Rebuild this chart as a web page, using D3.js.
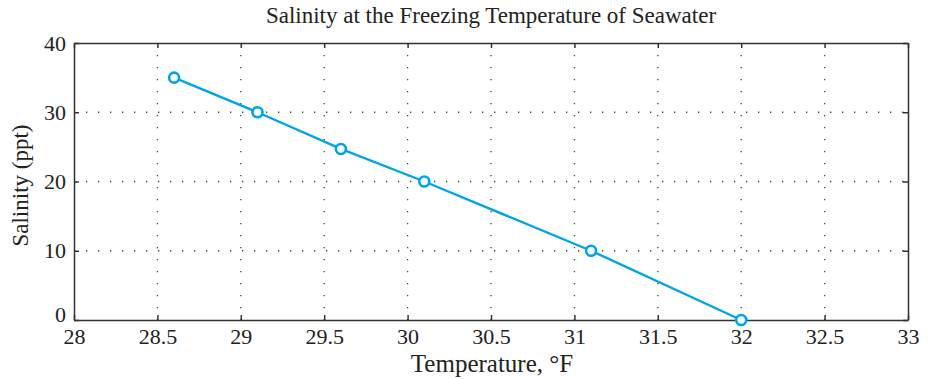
<!DOCTYPE html>
<html>
<head>
<meta charset="utf-8">
<script src="https://cdn.jsdelivr.net/npm/d3@7"></script>
<style>
  body { margin: 0; background: #fff; }
</style>
</head>
<body>
<svg width="928" height="379"></svg>
<script>
// data
var temperature = [28.6, 29.1, 29.6, 30.1, 31.1, 32.0];
var salinity = [35, 30, 24.7, 20, 10, 0];
var xTicks = [28, 28.5, 29, 29.5, 30, 30.5, 31, 31.5, 32, 32.5, 33];
var yTicks = [0, 10, 20, 30, 40];

var serif = "'Liberation Serif', 'DejaVu Serif', serif";

var svg = d3.select("svg");
var margin = {left: 74, right: 20, top: 43, bottom: 59};
var width = 928 - margin.left - margin.right,
    height = 379 - margin.top - margin.bottom;

var x = d3.scaleLinear().domain([28, 33]).range([0, width]);
var y = d3.scaleLinear().domain([0, 40]).range([height, 0]);

var g = svg.append("g")
    .attr("transform", "translate(" + margin.left + "," + margin.top + ")");

// dotted grid
g.append("g").selectAll("line")
    .data(xTicks.slice(1, -1))
    .enter().append("line")
    .attr("x1", function (d) { return x(d); })
    .attr("x2", function (d) { return x(d); })
    .attr("y1", 0).attr("y2", height)
    .attr("stroke", "#444").attr("stroke-width", 1.3)
    .attr("stroke-dasharray", "1.3,10.7");

g.append("g").selectAll("line")
    .data(yTicks.slice(1, -1))
    .enter().append("line")
    .attr("y1", function (d) { return y(d); })
    .attr("y2", function (d) { return y(d); })
    .attr("x1", 0).attr("x2", width)
    .attr("stroke", "#444").attr("stroke-width", 1.3)
    .attr("stroke-dasharray", "1.3,10.7");

// axes with inward ticks
var fmt = function (d) { return d3.format("")(d); };
var xAxis = g.append("g")
    .attr("transform", "translate(0," + height + ")")
    .call(d3.axisBottom(x).tickValues(xTicks).tickFormat(fmt).tickSizeInner(-5).tickSizeOuter(0).tickPadding(8));
var xTop = g.append("g")
    .call(d3.axisTop(x).tickValues(xTicks).tickFormat("").tickSizeInner(-5).tickSizeOuter(0));
var yAxis = g.append("g")
    .call(d3.axisLeft(y).tickValues(yTicks).tickFormat(fmt).tickSizeInner(-5).tickSizeOuter(0).tickPadding(8));
var yRight = g.append("g")
    .attr("transform", "translate(" + width + ",0)")
    .call(d3.axisRight(y).tickValues(yTicks).tickFormat("").tickSizeInner(-5).tickSizeOuter(0));

[xAxis, xTop, yAxis, yRight].forEach(function (a) {
    a.attr("font-family", serif).attr("font-size", 22);
    a.select(".domain").attr("stroke", "#333").attr("stroke-width", 1.5);
    a.selectAll(".tick line").attr("stroke", "#333").attr("stroke-width", 1.5);
    a.selectAll("text").attr("fill", "#222");
});
yAxis.selectAll(".tick").filter(function (d) { return d === 0; })
    .select("text").attr("dy", "0.05em");

// line and markers
var line = d3.line()
    .x(function (d, i) { return x(temperature[i]); })
    .y(function (d) { return y(d); });

g.append("path")
    .datum(salinity)
    .attr("fill", "none")
    .attr("stroke", "#00a6e4")
    .attr("stroke-width", 2.4)
    .attr("d", line);

g.append("g").selectAll("circle")
    .data(salinity)
    .enter().append("circle")
    .attr("cx", function (d, i) { return x(temperature[i]); })
    .attr("cy", function (d) { return y(d); })
    .attr("r", 5)
    .attr("fill", "#fff")
    .attr("stroke", "#00a6e4")
    .attr("stroke-width", 2.6);

// titles
svg.append("text")
    .attr("x", margin.left + width / 2).attr("y", 23)
    .attr("text-anchor", "middle").attr("font-size", 23)
    .attr("font-family", serif).attr("fill", "#222")
    .text("Salinity at the Freezing Temperature of Seawater");

svg.append("text")
    .attr("x", margin.left + width / 2 + 1).attr("y", 372)
    .attr("text-anchor", "middle").attr("font-size", 25)
    .attr("font-family", serif).attr("fill", "#222")
    .text("Temperature, \u00B0F");

svg.append("text")
    .attr("transform", "translate(28," + (margin.top + height / 2 + 4) + ") rotate(-90)")
    .attr("text-anchor", "middle").attr("font-size", 23)
    .attr("font-family", serif).attr("fill", "#222")
    .text("Salinity (ppt)");
</script>
</body>
</html>
